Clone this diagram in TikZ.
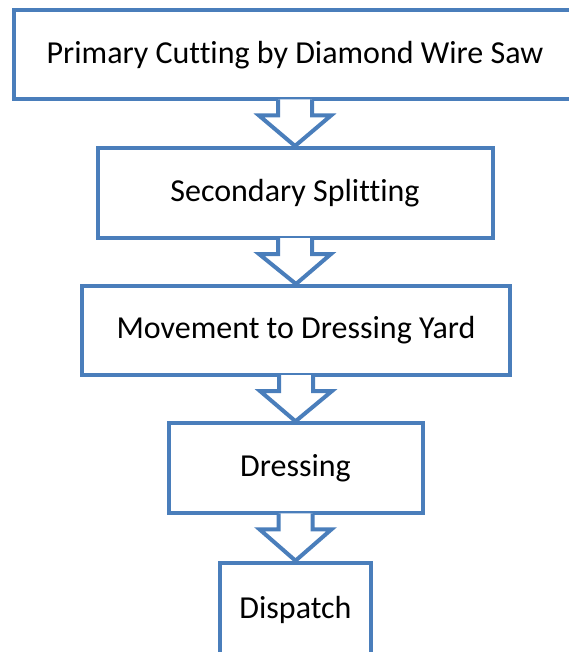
\documentclass[tikz,border=0pt]{standalone}
\usepackage{fontspec}
\setmainfont{Carlito}[Ligatures=NoCommon]
\usetikzlibrary{calc,positioning}
\definecolor{boxblue}{HTML}{4A7EBB}

\begin{document}
\begin{tikzpicture}[x=1pt,y=-1pt,
    stage/.style={draw=boxblue,line width=4pt,rectangle,fill=white,
      minimum height=90pt,font=\fontsize{32}{38}\selectfont},
    flowarrow/.style={draw=boxblue,line width=4pt,fill=white,miter limit=4}]

  \useasboundingbox (0,0) rectangle (569,652);

  \node [stage, minimum width=563pt, minimum height=89.5pt] at(295,54.75) (cutting) {Primary Cutting by Diamond Wire Saw};
  \node [stage, minimum width=395pt] at(295,193) (splitting) {Secondary Splitting};
  \node [stage, minimum width=428pt, minimum height=89pt] at(296,330.5) (movement) {Movement to Dressing Yard};
  \node [stage, minimum width=254pt] at(295.5,468.3) (dressing) {Dressing};
  \node [stage, minimum width=151pt, minimum height=94pt] at(295.5,609.7) (dispatch) {Dispatch};

  % block arrows between the stages
  \foreach \a/\b in {cutting/splitting,splitting/movement,movement/dressing,dressing/dispatch}{
    \draw [flowarrow] ($(\a.south)+(-17,-2)$) -- ($(\a.south)+(-17,14)$)
      -- ($(\a.south)+(-36,14)$) -- (\b.north)
      -- ($(\a.south)+(36,14)$) -- ($(\a.south)+(17,14)$)
      -- ($(\a.south)+(17,-2)$);
  }

\end{tikzpicture}
\end{document}
